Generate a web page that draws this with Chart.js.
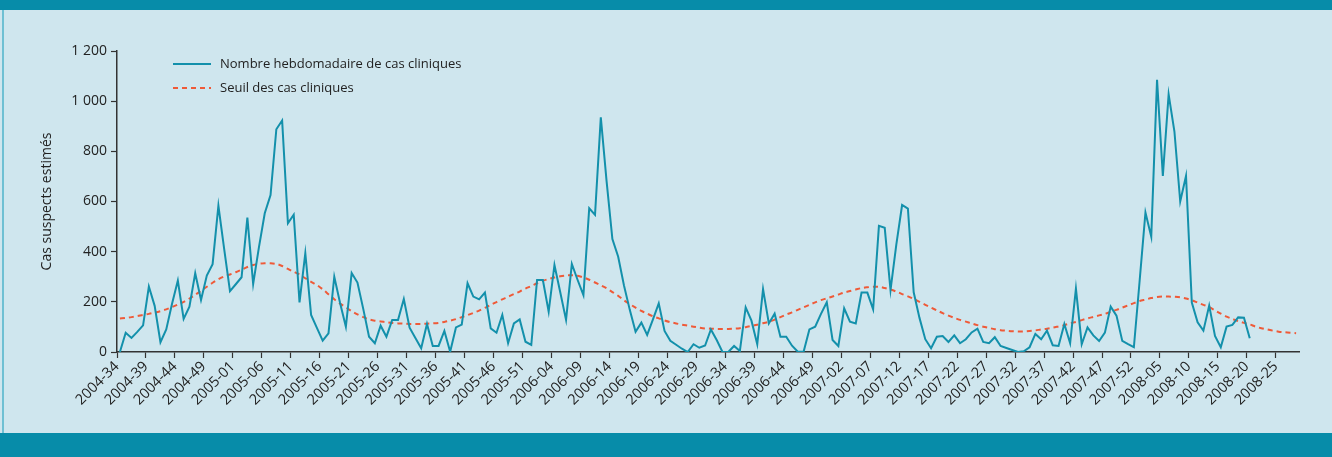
<!DOCTYPE html>
<html lang="fr">
<head>
<meta charset="utf-8">
<title>Cas cliniques hebdomadaires</title>
<script src="https://cdn.jsdelivr.net/npm/chart.js@4.4.1/dist/chart.umd.min.js"></script>
<style>
  html, body { margin: 0; padding: 0; }
  body { width: 1332px; height: 457px; overflow: hidden; background: #cfe6ee; position: relative; }
  .band-top { position: absolute; left: 0; top: 0; width: 1332px; height: 10px; background: #078ca9; }
  .band-bottom { position: absolute; left: 0; top: 433px; width: 1332px; height: 24px; background: #078ca9; }
  .edge-left { position: absolute; left: 2px; top: 10px; width: 2px; height: 423px; background: #6fc0d3; }
  #chart { position: absolute; left: 0; top: 0; }
</style>
</head>
<body>
<div class="band-top"></div>
<div class="band-bottom"></div>
<div class="edge-left"></div>
<canvas id="chart" width="1332" height="457"></canvas>
<script>
// ISO weeks shown on the axis: 2004-34 onwards, 204 weeks
const firstYear = 2004;
const firstWeek = 34;
const weekCount = 204;
const weeksPerYear = { 2004: 53, 2005: 52, 2006: 52, 2007: 52, 2008: 52 };

function buildWeeks(year, week, n) {
  const out = [];
  for (let k = 0; k < n; k++) {
    out.push(year + '-' + String(week).padStart(2, '0'));
    week++;
    if (week > weeksPerYear[year]) { week = 1; year++; }
  }
  return out;
}
const weeks = buildWeeks(firstYear, firstWeek, weekCount);

// Weekly count of clinical cases (estimated suspect cases)
const weeklyCases = [
  0, 77, 56, 80, 106, 261, 184, 39, 90, 192,
  285, 132, 181, 314, 207, 305, 350, 583, 410, 243,
  270, 298, 536, 271, 418, 553, 626, 888, 923, 513,
  547, 198, 394, 148, 96, 45, 74, 300, 195, 101,
  315, 277, 172, 61, 35, 105, 61, 128, 128, 211,
  97, 56, 15, 112, 24, 24, 84, 1, 98, 109,
  274, 221, 210, 237, 94, 77, 148, 35, 114, 130,
  41, 28, 287, 287, 161, 347, 238, 128, 351, 287,
  227, 573, 547, 936, 680, 450, 380, 265, 168, 81,
  117, 68, 130, 194, 84, 45, 29, 13, 0, 31,
  17, 26, 90, 48, 0, 0, 24, 4, 178, 125,
  31, 251, 114, 153, 61, 61, 25, 1, 1, 90,
  101, 152, 198, 48, 24, 174, 121, 114, 237, 237,
  170, 503, 495, 247, 428, 586, 572, 238, 136, 51,
  15, 61, 64, 40, 66, 35, 51, 78, 93, 40,
  35, 59, 24, 16, 8, 0, 3, 19, 72, 51,
  85, 27, 24, 112, 35, 253, 31, 98, 66, 44,
  77, 181, 145, 44, 31, 19, 285, 556, 460, 1085,
  702, 1027, 879, 600, 702, 197, 118, 85, 185, 64,
  19, 101, 108, 138, 137, 55
];

// Epidemic threshold for clinical cases
const thresholdCases = [
  134, 136, 139, 143, 148, 152, 157, 163, 170, 179,
  189, 200, 213, 228, 244, 260, 276, 290, 301, 309,
  318, 328, 339, 347, 352, 354, 354, 351, 343, 331,
  320, 309, 294, 280, 267, 250, 230, 210, 193, 178,
  163, 150, 139, 130, 125, 122, 119, 116, 114, 113,
  112, 112, 112, 113, 114, 116, 120, 125, 131, 139,
  147, 156, 165, 176, 188, 199, 210, 220, 231, 241,
  253, 263, 274, 284, 291, 297, 302, 305, 306, 304,
  297, 288, 277, 266, 254, 239, 224, 206, 191, 177,
  164, 153, 142, 134, 126, 119, 114, 109, 105, 101,
  97, 94, 93, 92, 92, 92, 93, 95, 99, 104,
  109, 115, 120, 129, 139, 149, 158, 168, 178, 188,
  198, 207, 214, 221, 229, 237, 243, 249, 255, 258,
  260, 260, 255, 249, 241, 231, 222, 212, 200, 188,
  177, 166, 155, 145, 136, 128, 121, 114, 107, 101,
  96, 91, 87, 85, 83, 82, 82, 84, 86, 90,
  93, 97, 102, 107, 114, 120, 127, 134, 140, 146,
  152, 160, 168, 177, 186, 195, 203, 209, 215, 219,
  221, 221, 220, 218, 213, 206, 197, 188, 179, 166,
  153, 141, 132, 123, 116, 110, 101, 95, 90, 85,
  81, 79, 77, 75
];

const yTicks = [0, 200, 400, 600, 800, 1000, 1200];
const seriesNames = ['Nombre hebdomadaire de cas cliniques', 'Seuil des cas cliniques'];

const FONT = "'Open Sans', 'DejaVu Sans', sans-serif";
const INK = '#222222';
const AXIS = '#333333';
const TEAL = '#1390ab';
const RED = '#ef5a38';

function spaced(v) {
  return v >= 1000 ? Math.floor(v / 1000) + ' ' + String(v % 1000).padStart(3, '0') : String(v);
}

// Legend drawn inside the plot, one row per series
const innerLegend = {
  id: 'innerLegend',
  afterDraw(chart) {
    const ctx = chart.ctx;
    const rows = [{ y: 64 }, { y: 88 }];
    ctx.save();
    chart.data.datasets.forEach((ds, k) => {
      const y = rows[k].y;
      ctx.beginPath();
      ctx.strokeStyle = ds.borderColor;
      ctx.lineWidth = ds.borderWidth;
      ctx.setLineDash(ds.borderDash || []);
      ctx.moveTo(173, y);
      ctx.lineTo(211, y);
      ctx.stroke();
      ctx.setLineDash([]);
      ctx.fillStyle = INK;
      ctx.font = '13px ' + FONT;
      ctx.textBaseline = 'middle';
      ctx.textAlign = 'left';
      ctx.fillText(ds.label, 220, y);
    });
    ctx.restore();
  }
};

new Chart(document.getElementById('chart'), {
  type: 'line',
  data: {
    labels: weeks,
    datasets: [
      {
        label: seriesNames[0],
        data: weeklyCases,
        borderColor: TEAL,
        borderWidth: 2,
        pointRadius: 0,
        tension: 0,
        fill: false
      },
      {
        label: seriesNames[1],
        data: thresholdCases,
        borderColor: RED,
        borderWidth: 2,
        borderDash: [5, 4],
        pointRadius: 0,
        tension: 0.3,
        fill: false
      }
    ]
  },
  options: {
    responsive: false,
    animation: false,
    devicePixelRatio: 1,
    layout: { padding: { left: 0, right: 33, top: 51, bottom: 0 } },
    plugins: { legend: { display: false }, tooltip: { enabled: false } },
    scales: {
      x: {
        type: 'category',
        offset: true,
        border: { display: true, color: AXIS, width: 1.5 },
        grid: {
          offset: true,
          drawOnChartArea: false,
          tickLength: 6,
          tickWidth: 1.2,
          tickColor: (c) => (c.index !== undefined && c.index % 5 === 0) ? AXIS : 'rgba(0,0,0,0)'
        },
        ticks: {
          autoSkip: false,
          maxRotation: 45,
          minRotation: 45,
          padding: 0,
          labelOffset: -3,
          color: INK,
          font: { family: FONT, size: 14.5 },
          callback: (v, i) => (i % 5 === 0 ? weeks[i] : '')
        },
        afterFit: (s) => { s.height = 105; }
      },
      y: {
        min: 0,
        max: 1200,
        border: { display: true, color: AXIS, width: 1.5 },
        grid: { drawOnChartArea: false, tickLength: 6, tickWidth: 1.2, tickColor: AXIS },
        afterBuildTicks: (s) => { s.ticks = yTicks.map((v) => ({ value: v })); },
        ticks: {
          padding: 4,
          color: INK,
          font: { family: FONT, size: 14 },
          callback: (v) => spaced(v)
        },
        title: {
          display: true,
          text: 'Cas suspects estimés',
          color: INK,
          font: { family: FONT, size: 14 },
          padding: { top: 39, bottom: 0 }
        },
        afterFit: (s) => { s.width = 117; }
      }
    }
  },
  plugins: [innerLegend]
});
</script>
</body>
</html>
